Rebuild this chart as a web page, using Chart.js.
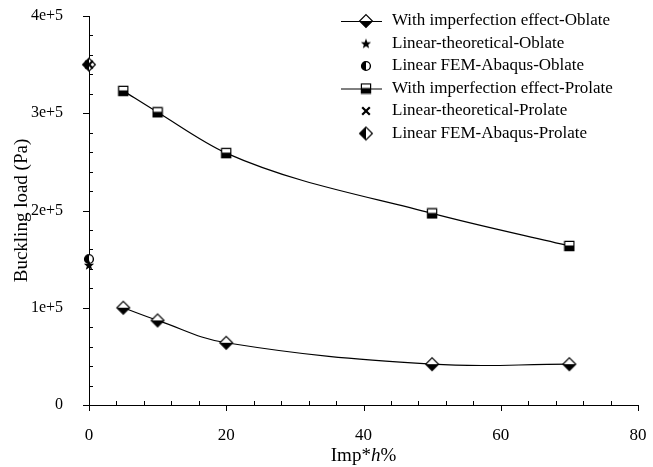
<!DOCTYPE html>
<html>
<head>
<meta charset="utf-8">
<script src="https://cdn.jsdelivr.net/npm/chart.js@4.4.0/dist/chart.umd.min.js"></script>
<style>
  html, body { margin: 0; padding: 0; background: #fff; }
  #wrap { width: 653px; height: 467px; }
</style>
</head>
<body>
<div id="wrap"><canvas id="buckling-chart" width="653" height="467"></canvas></div>
<script>
// Data
const impX = [5, 10, 20, 50, 70];
const oblateLoad = [100000, 87000, 64000, 42000, 42000];
const prolateLoad = [323000, 301000, 259000, 197000, 163500];
const linearX = [0];
const theoOblate = [144000];
const femOblate = [150000];
const theoProlate = [350000];
const femProlate = [350000];
const yTickLabels = ['0', '1e+5', '2e+5', '3e+5', '4e+5'];
const seriesLabels = [
    'With imperfection effect-Oblate',
    'Linear-theoretical-Oblate',
    'Linear FEM-Abaqus-Oblate',
    'With imperfection effect-Prolate',
    'Linear-theoretical-Prolate',
    'Linear FEM-Abaqus-Prolate'
];

const FONT = '"Liberation Serif", "Times New Roman", serif';

/**
 * Small canvases used as point styles
 */
function makeMarker(size, draw) {
    const c = document.createElement('canvas');
    c.width = size;
    c.height = size;
    const g = c.getContext('2d');
    g.lineWidth = 1;
    g.strokeStyle = '#000';
    draw(g, size / 2);
    return c;
}

function halfFill(g, pathFn, clipRect) {
    pathFn();
    g.fillStyle = '#fff';
    g.fill();
    g.save();
    pathFn();
    g.clip();
    g.fillStyle = '#000';
    g.fillRect(clipRect[0], clipRect[1], clipRect[2], clipRect[3]);
    g.restore();
    pathFn();
    g.stroke();
}

const diamondBottom = makeMarker(16, function(g, c) {
    const r = 6.4;
    const path = function() {
        g.beginPath();
        g.moveTo(c, c - r); g.lineTo(c + r, c); g.lineTo(c, c + r); g.lineTo(c - r, c);
        g.closePath();
    };
    g.lineWidth = 1.2;
    halfFill(g, path, [0, c, 16, 16]);
});

const squareBottom = makeMarker(12, function(g, c) {
    const h = 4.6;
    const path = function() {
        g.beginPath();
        g.rect(c - h, c - h, 2 * h, 2 * h);
    };
    g.lineWidth = 1.2;
    halfFill(g, path, [0, c - 0.5, 12, 12]);
});

const starMarker = makeMarker(12, function(g, c) {
    g.beginPath();
    for (let i = 0; i < 10; i++) {
        const r = i % 2 === 0 ? 5.4 : 2.3;
        const a = -Math.PI / 2 + i * Math.PI / 5;
        const px = c + r * Math.cos(a), py = c + 0.5 + r * Math.sin(a);
        if (i === 0) g.moveTo(px, py); else g.lineTo(px, py);
    }
    g.closePath();
    g.fillStyle = '#000';
    g.fill();
});

const circleLeft = makeMarker(12, function(g, c) {
    const path = function() {
        g.beginPath();
        g.arc(c, c, 4.4, 0, Math.PI * 2);
    };
    g.lineWidth = 1.4;
    halfFill(g, path, [0, 0, c, 12]);
});

const crossMarker = makeMarker(12, function(g, c) {
    const h = 3.8;
    g.lineWidth = 2.2;
    g.beginPath();
    g.moveTo(c - h, c - h); g.lineTo(c + h, c + h);
    g.moveTo(c + h, c - h); g.lineTo(c - h, c + h);
    g.stroke();
});

const diamondLeft = makeMarker(16, function(g, c) {
    const r = 6.4;
    const path = function() {
        g.beginPath();
        g.moveTo(c, c - r); g.lineTo(c + r, c); g.lineTo(c, c + r); g.lineTo(c - r, c);
        g.closePath();
    };
    g.lineWidth = 1.2;
    halfFill(g, path, [0, 0, c, 16]);
});

function toPoints(xs, ys) {
    return xs.map(function(x, i) { return { x: x, y: ys[i] }; });
}

/**
 * Axis ticks: major outside, minor inside, plus custom legend and x title
 */
const decorPlugin = {
    id: 'decor',
    afterDraw: function(chart) {
        const ctx = chart.ctx;
        const xs = chart.scales.x;
        const ys = chart.scales.y;
        const area = chart.chartArea;
        ctx.save();
        ctx.strokeStyle = '#000';
        ctx.lineWidth = 1;
        ctx.beginPath();
        for (let v = 0; v <= 80; v += 4) {
            const px = Math.round(xs.getPixelForValue(v)) + 0.5;
            if (v % 20 === 0) {
                ctx.moveTo(px, area.bottom); ctx.lineTo(px, area.bottom + 6);
            } else {
                ctx.moveTo(px, area.bottom); ctx.lineTo(px, area.bottom - 4);
            }
        }
        for (let v = 0; v <= 400000; v += 20000) {
            const py = Math.round(ys.getPixelForValue(v)) + 0.5;
            if (v % 100000 === 0) {
                ctx.moveTo(area.left, py); ctx.lineTo(area.left - 6, py);
            } else {
                ctx.moveTo(area.left, py); ctx.lineTo(area.left + 4, py);
            }
        }
        ctx.stroke();

        // x axis title with italic h
        const parts = [['Imp*', 'normal'], ['h', 'italic'], ['%', 'normal']];
        ctx.fillStyle = '#000';
        ctx.textBaseline = 'middle';
        let total = 0;
        parts.forEach(function(p) {
            ctx.font = p[1] + ' 19px ' + FONT;
            total += ctx.measureText(p[0]).width;
        });
        let tx = (area.left + area.right) / 2 - total / 2;
        parts.forEach(function(p) {
            ctx.font = p[1] + ' 19px ' + FONT;
            ctx.fillText(p[0], tx, 456);
            tx += ctx.measureText(p[0]).width;
        });

        // legend
        const rowY = [21, 43.5, 66, 88.5, 111, 133.5];
        ctx.font = '17px ' + FONT;
        chart.data.datasets.forEach(function(ds, i) {
            const y = rowY[i];
            if (ds.showLine) {
                ctx.beginPath();
                ctx.moveTo(341, y + 0.5);
                ctx.lineTo(382, y + 0.5);
                ctx.stroke();
            }
            const img = ds.pointStyle;
            ctx.drawImage(img, 366 - img.width / 2, y - img.height / 2);
            ctx.fillText(ds.label, 392, y);
        });
        ctx.restore();
    }
};

const datasets = [
    { label: seriesLabels[0], data: toPoints(impX, oblateLoad), showLine: true, pointStyle: diamondBottom, tension: 0.4 },
    { label: seriesLabels[1], data: toPoints(linearX, theoOblate), showLine: false, pointStyle: starMarker },
    { label: seriesLabels[2], data: toPoints(linearX, femOblate), showLine: false, pointStyle: circleLeft },
    { label: seriesLabels[3], data: toPoints(impX, prolateLoad), showLine: true, pointStyle: squareBottom, cubicInterpolationMode: 'monotone' },
    { label: seriesLabels[4], data: toPoints(linearX, theoProlate), showLine: false, pointStyle: crossMarker },
    { label: seriesLabels[5], data: toPoints(linearX, femProlate), showLine: false, pointStyle: diamondLeft }
].map(function(ds) {
    ds.borderColor = '#000';
    ds.backgroundColor = '#000';
    ds.borderWidth = 1.2;
    ds.clip = false;
    return ds;
});

const chart = new Chart(document.getElementById('buckling-chart').getContext('2d'), {
    type: 'scatter',
    data: { datasets: datasets },
    options: {
        responsive: false,
        animation: false,
        devicePixelRatio: 1,
        layout: { padding: { top: 16, right: 15, left: 0, bottom: 0 } },
        plugins: {
            legend: { display: false },
            tooltip: { enabled: false }
        },
        scales: {
            x: {
                type: 'linear',
                min: 0,
                max: 80,
                grid: { display: false, drawTicks: false },
                border: { display: true, color: '#000', width: 1 },
                ticks: {
                    stepSize: 20,
                    color: '#000',
                    padding: 20,
                    font: { family: FONT, size: 17 }
                },
                afterFit: function(scale) {
                    scale.height = 62;
                    scale.paddingLeft = 0;
                    scale.paddingRight = 0;
                }
            },
            y: {
                min: 0,
                max: 400000,
                grid: { display: false, drawTicks: false },
                border: { display: true, color: '#000', width: 1 },
                ticks: {
                    stepSize: 100000,
                    color: '#000',
                    padding: 26,
                    font: { family: FONT, size: 16 },
                    callback: function(value) {
                        return yTickLabels[Math.round(value / 100000)];
                    }
                },
                title: {
                    display: true,
                    text: 'Buckling load (Pa)',
                    color: '#000',
                    font: { family: FONT, size: 19 },
                    padding: { top: 11, bottom: 0 }
                },
                afterFit: function(scale) {
                    scale.width = 89;
                    scale.paddingTop = 0;
                    scale.paddingBottom = 0;
                }
            }
        }
    },
    plugins: [decorPlugin]
});
</script>
</body>
</html>
